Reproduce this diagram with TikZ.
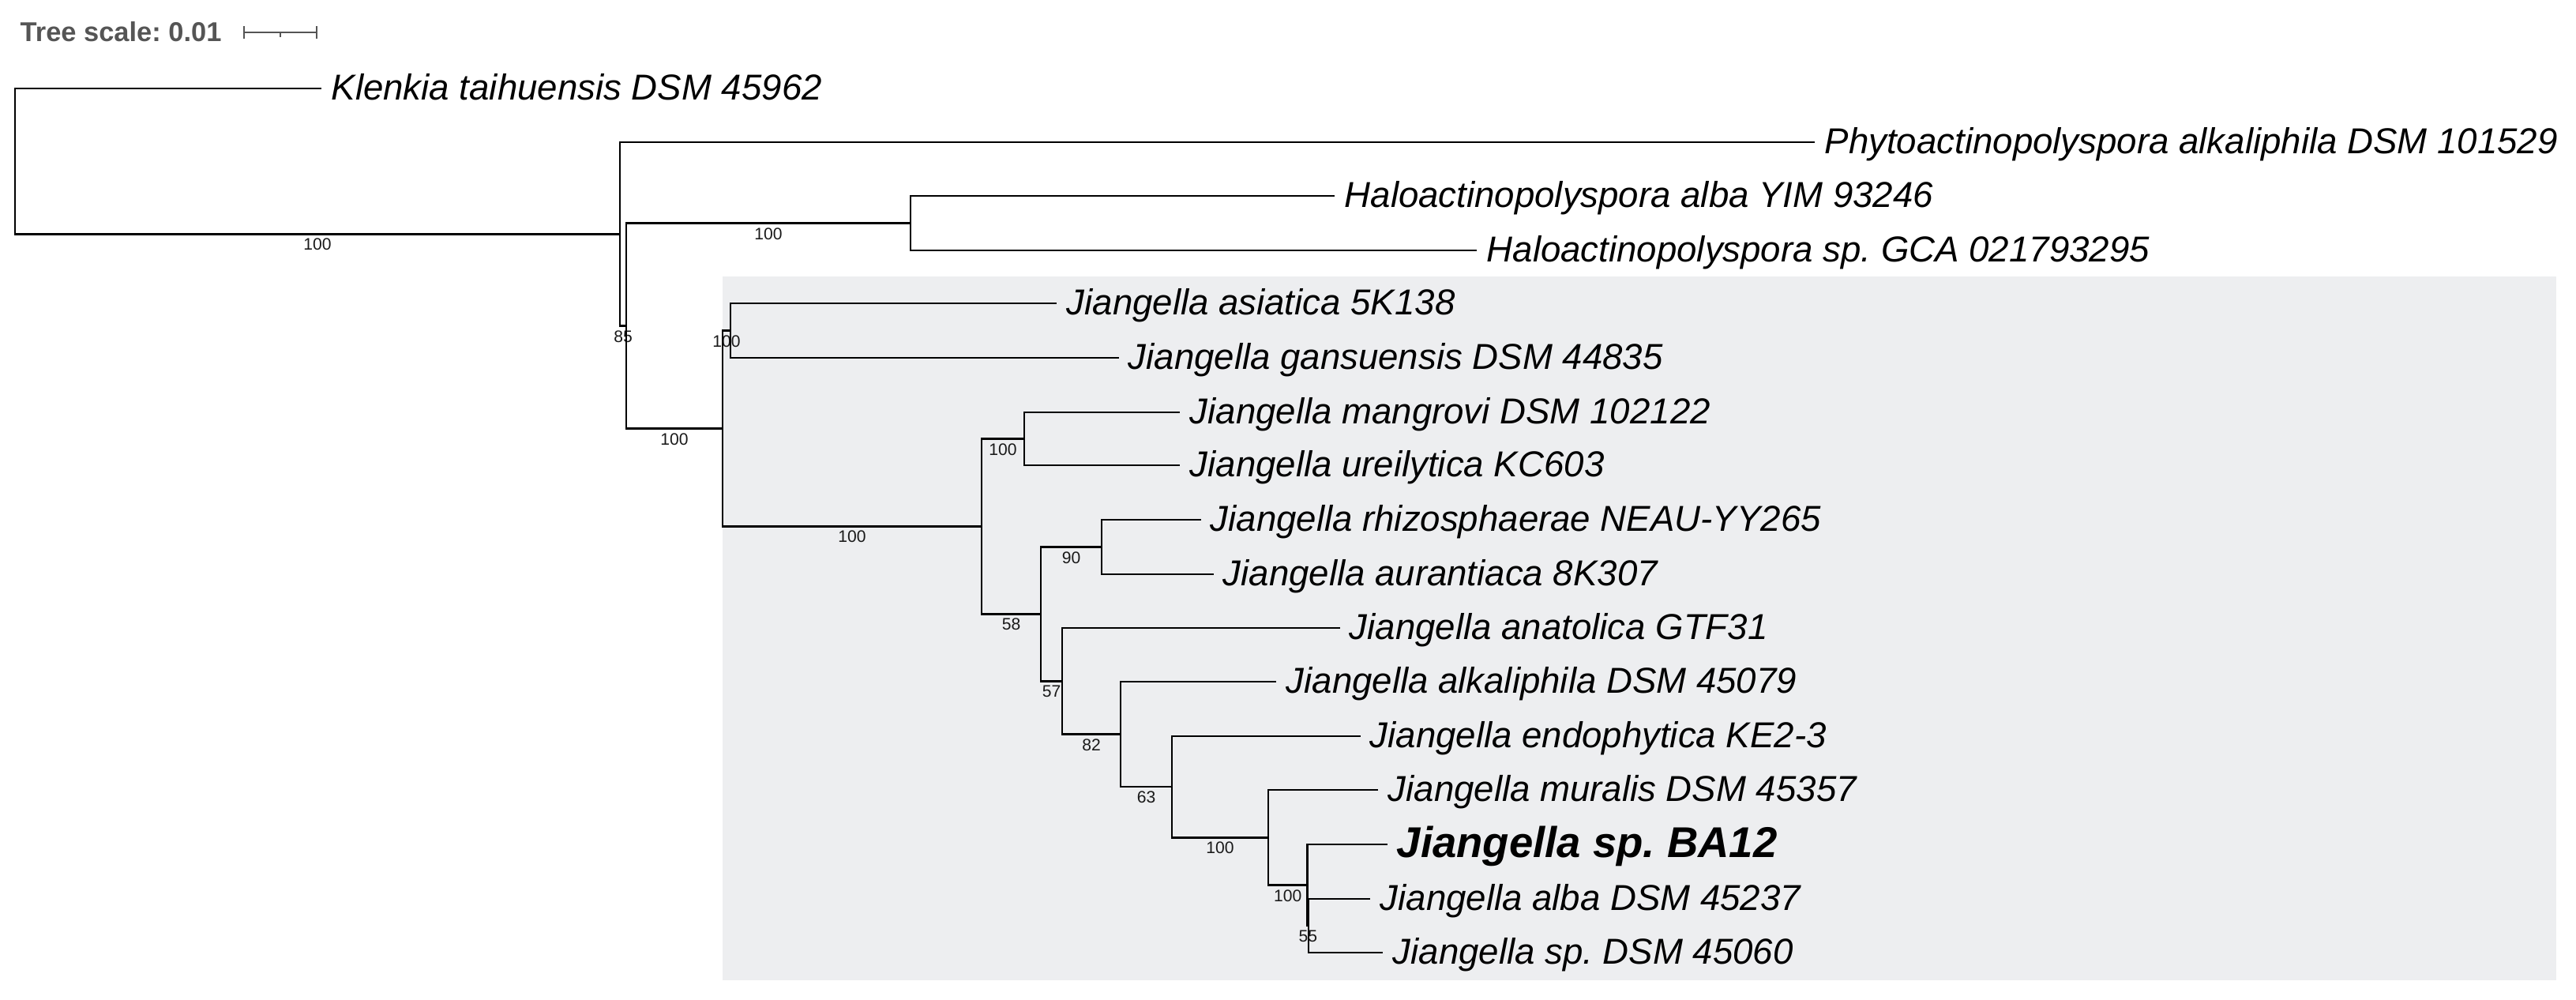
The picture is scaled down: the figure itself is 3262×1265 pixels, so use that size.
\documentclass[tikz,border=0pt]{standalone}
\usepackage{fontspec}
\setmainfont{Liberation Sans}
\usepackage{tikz}
\frenchspacing

\definecolor{cladegray}{RGB}{237,238,240}
\definecolor{scalegray}{RGB}{85,85,85}

\tikzset{
    branch/.style={line width=0.75pt},
    taxon/.style={anchor=base west, inner sep=0pt, font=\fontsize{12.97}{15}\selectfont\itshape},
    newtaxon/.style={anchor=base west, inner sep=0pt, font=\fontsize{15.5}{18}\selectfont\bfseries\itshape},
    boot/.style={below=0.045cm, inner sep=0pt, font=\fontsize{6}{7}\selectfont, text=black!90}
}

\begin{document}
\begin{tikzpicture}[x=0.01cm, y=-0.01cm]
        \useasboundingbox (0,0) rectangle (3262,1265);
        \fill[cladegray] (915,350) rectangle (3237,1241);

        \node[anchor=base west, inner sep=0pt, font=\fontsize{9.8}{12}\selectfont\bfseries, text=scalegray] (scaletxt) at (25,52) {Tree scale: 0.01};
        \draw[scalegray, line width=0.75pt] (309,41) -- (401,41);
        \draw[scalegray, line width=0.75pt] (309,33) -- (309,49);
        \draw[scalegray, line width=0.75pt] (401,33) -- (401,49);
        \draw[scalegray, line width=0.75pt] (355,41) -- (355,47);

        \coordinate (root) at (19,204.1);
        \coordinate (nA) at (785,296.25);
        \coordinate (nB) at (793,412.5);
        \coordinate (nH) at (1153,282.5);
        \coordinate (nJ) at (915,542.5);
        \coordinate (nK) at (925,418.5);
        \coordinate (nL) at (1243,666.4);
        \coordinate (nM) at (1297,555.5);
        \coordinate (nY) at (1318,777.4);
        \coordinate (nR) at (1395,692.5);
        \coordinate (nX) at (1345,862.3);
        \coordinate (nW) at (1419,929.6);
        \coordinate (nV) at (1484,996.1);
        \coordinate (nU) at (1606,1060.25);
        \coordinate (nT) at (1655.5,1120.5);
        \coordinate (nS) at (1657,1172);

        \coordinate (kle) at (407,112);
        \coordinate (phy) at (2298,180);
        \coordinate (hal) at (1690,248);
        \coordinate (hsp) at (1870,317);
        \coordinate (asi) at (1338,384);
        \coordinate (gan) at (1417,453);
        \coordinate (man) at (1494,522);
        \coordinate (ure) at (1494,589);
        \coordinate (rhi) at (1521,658);
        \coordinate (aur) at (1537,727);
        \coordinate (ana) at (1697,795);
        \coordinate (alk) at (1616,863);
        \coordinate (endo) at (1723,932);
        \coordinate (mur) at (1745,1000);
        \coordinate (ba) at (1757,1069);
        \coordinate (alb) at (1735,1138);
        \coordinate (jsp) at (1751,1206);

        \node[taxon] (kle-lab) at (419,126) {Klenkia taihuensis DSM 45962};
        \node[taxon] (phy-lab) at (2310,194) {Phytoactinopolyspora alkaliphila DSM 101529};
        \node[taxon] (hal-lab) at (1702,262) {Haloactinopolyspora alba YIM 93246};
        \node[taxon] (hsp-lab) at (1882,331) {Haloactinopolyspora sp. GCA 021793295};
        \node[taxon] (asi-lab) at (1350,398) {Jiangella asiatica 5K138};
        \node[taxon] (gan-lab) at (1428,467) {Jiangella gansuensis DSM 44835};
        \node[taxon] (man-lab) at (1506,536) {Jiangella mangrovi DSM 102122};
        \node[taxon] (ure-lab) at (1506,603) {Jiangella ureilytica KC603};
        \node[taxon] (rhi-lab) at (1532,672) {Jiangella rhizosphaerae NEAU-YY265};
        \node[taxon] (aur-lab) at (1548,741) {Jiangella aurantiaca 8K307};
        \node[taxon] (ana-lab) at (1708,809) {Jiangella anatolica GTF31};
        \node[taxon] (alk-lab) at (1628,877) {Jiangella alkaliphila DSM 45079};
        \node[taxon] (endo-lab) at (1734,946) {Jiangella endophytica KE2-3};
        \node[taxon] (mur-lab) at (1757,1014) {Jiangella muralis DSM 45357};
        \node[newtaxon] (ba-lab) at (1768,1085) {Jiangella sp. BA12};
        \node[taxon] (alb-lab) at (1747,1152) {Jiangella alba DSM 45237};
        \node[taxon] (jsp-lab) at (1763,1220) {Jiangella sp. DSM 45060};

        \draw[branch] (root) |- (kle);
        \draw[branch] (root) |- (nA) node[boot, pos=0.75] {100};
        \draw[branch] (nA) |- (phy);
        \draw[branch] (nA) |- (nB) node[boot, pos=0.75] {85};
        \draw[branch] (nB) |- (nH) node[boot, pos=0.75] {100};
        \draw[branch] (nB) |- (nJ) node[boot, pos=0.75] {100};
        \draw[branch] (nH) |- (hal);
        \draw[branch] (nH) |- (hsp);
        \draw[branch] (nJ) |- (nK) node[boot, pos=0.75] {100};
        \draw[branch] (nJ) |- (nL) node[boot, pos=0.75] {100};
        \draw[branch] (nK) |- (asi);
        \draw[branch] (nK) |- (gan);
        \draw[branch] (nL) |- (nM) node[boot, pos=0.75] {100};
        \draw[branch] (nL) |- (nY) node[boot, pos=0.75] {58};
        \draw[branch] (nM) |- (man);
        \draw[branch] (nM) |- (ure);
        \draw[branch] (nY) |- (nR) node[boot, pos=0.75] {90};
        \draw[branch] (nY) |- (nX) node[boot, pos=0.75] {57};
        \draw[branch] (nR) |- (rhi);
        \draw[branch] (nR) |- (aur);
        \draw[branch] (nX) |- (ana);
        \draw[branch] (nX) |- (nW) node[boot, pos=0.75] {82};
        \draw[branch] (nW) |- (alk);
        \draw[branch] (nW) |- (nV) node[boot, pos=0.75] {63};
        \draw[branch] (nV) |- (endo);
        \draw[branch] (nV) |- (nU) node[boot, pos=0.75] {100};
        \draw[branch] (nU) |- (mur);
        \draw[branch] (nU) |- (nT) node[boot, pos=0.75] {100};
        \draw[branch] (nT) |- (ba);
        \draw[branch] (nT) |- (nS) node[boot, pos=0.75] {55};
        \draw[branch] (nS) |- (alb);
        \draw[branch] (nS) |- (jsp);
    \end{tikzpicture}
\end{document}
